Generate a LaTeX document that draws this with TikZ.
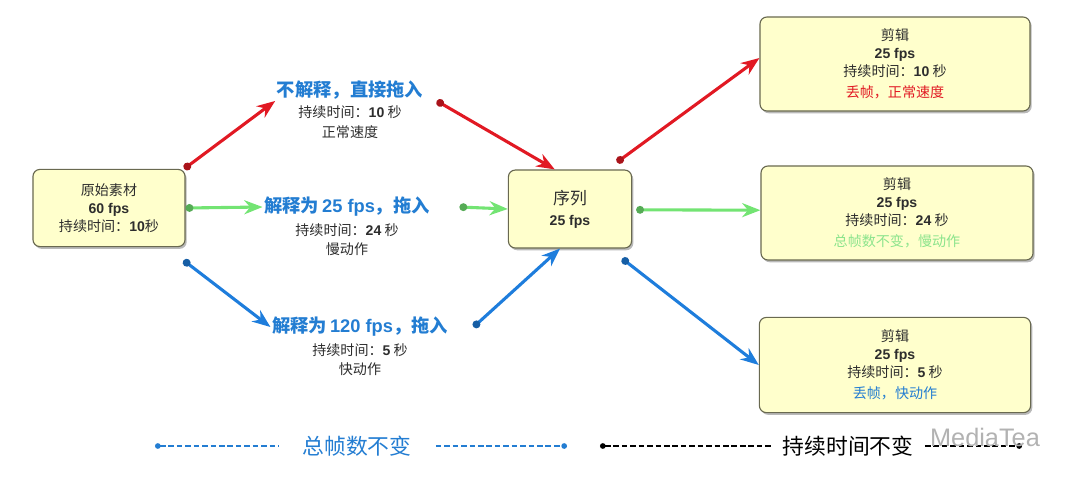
\documentclass[tikz,border=0pt]{standalone}
\usepackage{fontspec}
\setmainfont{Noto Sans CJK SC}
\newfontfamily\latin{Liberation Sans}
\usetikzlibrary{
    arrows.meta,
    positioning,
    shadows
}

\definecolor{boxfill}{RGB}{255,255,204}
\definecolor{boxline}{RGB}{105,105,80}
\definecolor{redarr}{RGB}{225,25,35}
\definecolor{greenarr}{RGB}{115,228,115}
\definecolor{bluearr}{RGB}{30,125,220}
\definecolor{labelblue}{RGB}{35,125,210}
\definecolor{greentext}{RGB}{140,228,140}
\definecolor{darktext}{RGB}{45,45,45}

\newcommand{\fps}[1]{{\latin\bfseries #1}}

\begin{document}
\begin{tikzpicture}[
    x=0.025cm, y=-0.025cm,
    node distance=0.5cm,
    box/.style={rectangle, draw=boxline, fill=boxfill, rounded corners=5pt, line width=0.8pt, align=center, text=darktext,
        font=\fontsize{10}{12.8}\selectfont, drop shadow={shadow xshift=1.2pt, shadow yshift=-1.6pt, fill=black!55}},
    howto/.style={font=\fontsize{13}{16}\selectfont\bfseries, text=labelblue, inner sep=1pt},
    note/.style={font=\fontsize{10}{14}\selectfont, text=darktext, align=center, inner sep=1pt},
    legend/.style={font=\fontsize{15.5}{18}\selectfont, inner ysep=1pt},
    flow/.style={line width=2.2pt, draw=#1,
        {Circle[length=5.5pt, width=5.5pt, fill=#1!75!black, color=#1!75!black]}-{Stealth[length=13pt, width=10pt, fill=#1, color=#1]}},
    dashline/.style={line width=1pt, dash pattern=on 4pt off 2pt}
]
\useasboundingbox (0,0) rectangle (1080,481);

% Source clip (left)
\node[box, minimum width=3.8cm, minimum height=1.93cm] (src) at (109,208)
    {原始素材\\\fps{60 fps}\\持续时间：\fps{10}秒};

% Three ways to import
\node[howto] (t1) at (350,90) {不解释，直接拖入};
\node[note, below=0.08cm of t1] (n1) {持续时间：\fps{10} 秒\\正常速度};

\node[howto] (t2) at (347,207) {解释为\,{\latin\bfseries 25 fps}，拖入};
\node[note, below=0.08cm of t2] (n2) {持续时间：\fps{24} 秒\\慢动作};

\node[howto] (t3) at (360,327) {解释为\,{\latin\bfseries 120 fps}，拖入};
\node[note, below=0.08cm of t3] (n3) {持续时间：\fps{5} 秒\\快动作};

% Sequence (middle)
\node[box, minimum width=3.08cm, minimum height=1.95cm] (seq) at (570,209)
    {{\fontsize{12}{16}\selectfont 序列}\\[2pt]\fps{25 fps}};

% Resulting clips (right)
\node[box, minimum width=6.75cm, minimum height=2.35cm] (clip1) at (895,64)
    {剪辑\\\fps{25 fps}\\持续时间：\fps{10} 秒\\[2pt]{\color{redarr}丢帧，正常速度}};
\node[box, minimum width=6.8cm, minimum height=2.35cm] (clip2) at (897,213)
    {剪辑\\\fps{25 fps}\\持续时间：\fps{24} 秒\\[2pt]{\color{greentext}总帧数不变，慢动作}};
\node[box, minimum width=6.78cm, minimum height=2.38cm] (clip3) at (895,365)
    {剪辑\\\fps{25 fps}\\持续时间：\fps{5} 秒\\[2pt]{\color{labelblue}丢帧，快动作}};

% Arrows
\draw[flow=redarr] ([xshift=-1pt]src.north east) -- (t1.south west);
\draw[flow=redarr] ([xshift=0.3cm]t1.south east) -- ([xshift=-0.38cm]seq.north);
\draw[flow=redarr] ([xshift=-0.38cm, yshift=0.18cm]seq.north east) -- ([yshift=0.15cm]clip1.west);

\draw[flow=greenarr] (src.east) -- (t2.west);
\draw[flow=greenarr] ([xshift=0.7cm]t2.east) -- (seq.west);
\draw[flow=greenarr] ([xshift=0.1cm, yshift=-0.02cm]seq.east) -- ([yshift=0.07cm]clip2.west);

\draw[flow=bluearr] ([xshift=-0.05cm, yshift=-0.33cm]src.south east) -- (t3.west);
\draw[flow=bluearr] ([xshift=0.6cm]t3.east) -- ([xshift=-0.25cm]seq.south);
\draw[flow=bluearr] ([xshift=-0.25cm, yshift=-0.25cm]seq.south east) -- (clip3.west);

% Legend
\node[legend, text=labelblue, inner xsep=0.6cm] (legA) at (357,446) {总帧数不变};
\node[legend, text=black, inner xsep=0.28cm] (legB) at (848,446) {持续时间不变};
\coordinate (la) at (155,446);
\coordinate (lb) at (567,446);
\coordinate (lc) at (600,446);
\coordinate (ld) at (1022,446);

\draw[dashline, labelblue, {Circle[length=4pt]}-] (la) -- (legA.west);
\draw[dashline, labelblue, -{Circle[length=4pt]}] (legA.east) -- (lb);
\draw[dashline, black, {Circle[length=4pt]}-] (lc) -- (legB.west);
\draw[dashline, black, -{Circle[length=4pt]}] (legB.east) -- (ld);

\node[font=\latin\fontsize{18}{20}\selectfont, text=black!30] (mark) at (985,437) {MediaTea};

\end{tikzpicture}
\end{document}
